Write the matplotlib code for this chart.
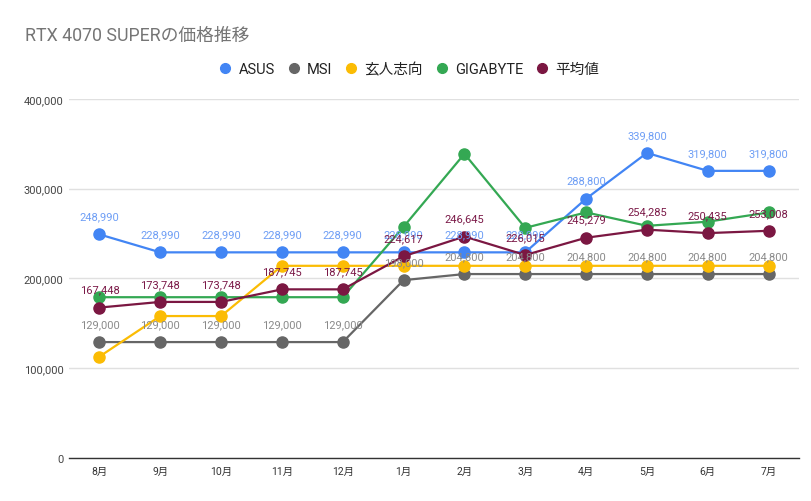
import matplotlib
matplotlib.use("Agg")
import matplotlib.pyplot as plt
from matplotlib.lines import Line2D
from matplotlib.ticker import FuncFormatter

plt.rcParams['font.family'] = ['Roboto', 'Noto Sans CJK JP', 'DejaVu Sans']

months = ["8月", "9月", "10月", "11月", "12月", "1月", "2月", "3月", "4月", "5月", "6月", "7月"]
asus = [248990, 228990, 228990, 228990, 228990, 228990, 228990, 228990, 288800, 339800, 319800, 319800]
msi = [129000, 129000, 129000, 129000, 129000, 198000, 204800, 204800, 204800, 204800, 204800, 204800]
kuroto = [112800, 158000, 158000, 213990, 213990, 213990, 213990, 213990, 213990, 213990, 213990, 213990]
gigabyte = [179000, 179000, 179000, 179000, 179000, 257490, 338800, 256280, 273530, 258550, 263150, 273440]
average = [167448, 173748, 173748, 187745, 187745, 224617, 246645, 226015, 245279, 254285, 250435, 253008]

series = [
    ("ASUS", asus, "#4285f4", "#6e9ef5"),
    ("MSI", msi, "#666666", "#8a8a8a"),
    ("玄人志向", kuroto, "#fbbc04", None),
    ("GIGABYTE", gigabyte, "#34a853", None),
    ("平均値", average, "#7b1742", "#7b1a48"),
]

fig = plt.figure(figsize=(8.12, 5.02), dpi=100)
ax = fig.add_axes([0.085, 0.086, 0.899, 0.715])

x = list(range(len(months)))
for name, vals, col, lab in series:
    ax.plot(x, vals, color=col, lw=1.6, marker="o", ms=8, clip_on=False, zorder=3)

# data labels drawn on top of all lines
for name, vals, col, lab in series:
    if lab is None:
        continue
    for xi, v in zip(x, vals):
        ax.annotate(f"{v:,}", (xi, v), xytext=(0, 13), textcoords="offset points",
                    ha="center", va="center", fontsize=8, color=lab, zorder=5)

ax.set_xlim(-0.5, len(months) - 0.5)
ax.set_ylim(0, 400000)
ax.set_yticks([0, 100000, 200000, 300000, 400000])
ax.yaxis.set_major_formatter(FuncFormatter(lambda v, p: f"{int(v):,}"))
ax.set_xticks(x)
ax.set_xticklabels(months)
ax.tick_params(axis="y", length=0, pad=4, labelsize=8, labelcolor="#444444")
ax.tick_params(axis="x", length=0, pad=6, labelsize=7.5, labelcolor="#333333")
ax.grid(axis="y", color="#e0e0e0", lw=1)
ax.set_axisbelow(True)
for s in ["top", "right", "left"]:
    ax.spines[s].set_visible(False)
ax.spines["bottom"].set_color("#333333")
ax.spines["bottom"].set_linewidth(1)

fig.text(0.031, 0.929, "RTX 4070 SUPERの価格推移", fontsize=12.8, color="#757575",
         ha="left", va="center")

handles = [Line2D([], [], ls="none", marker="o", ms=7, color=c) for _, _, c, _ in series]
fig.legend(handles, [s[0] for s in series], loc="center", bbox_to_anchor=(0.503, 0.86),
           ncol=5, frameon=False, fontsize=10.5, handletextpad=0.4, columnspacing=0.8,
           handlelength=1.0, labelcolor="#222222")

fig.savefig("out.png", dpi=100)
